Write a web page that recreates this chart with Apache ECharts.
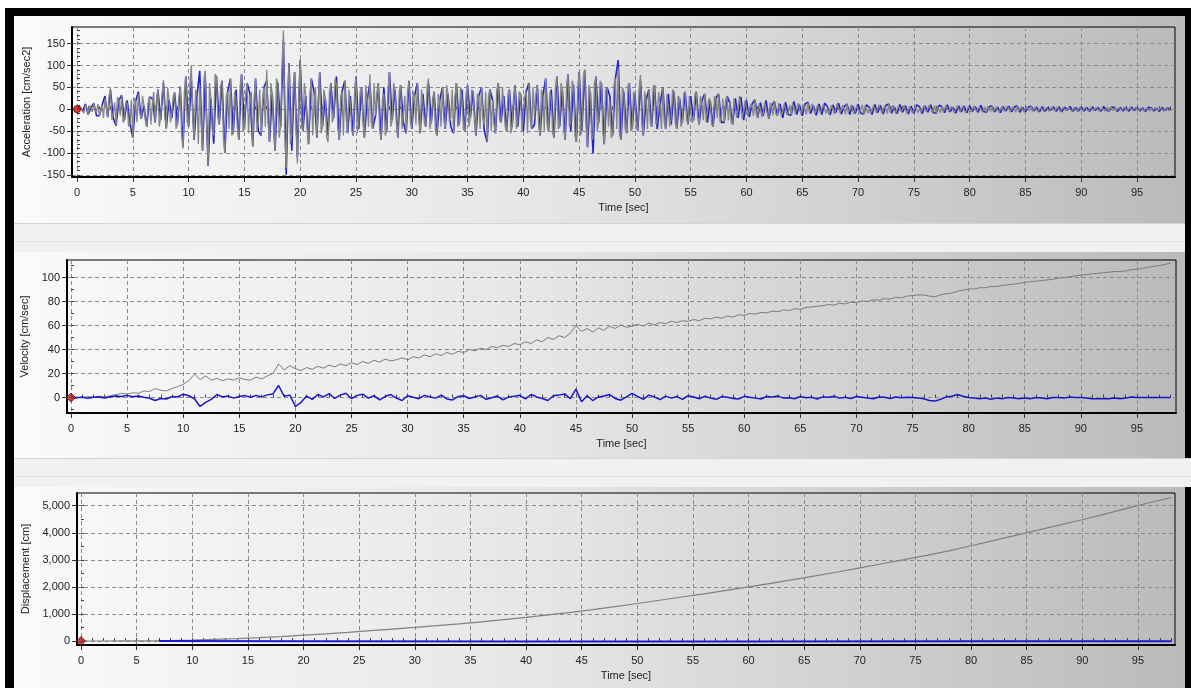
<!DOCTYPE html>
<html><head><meta charset="utf-8">
<script src="https://cdn.jsdelivr.net/npm/echarts@6/dist/echarts.min.js"></script>
<style>html,body{margin:0;padding:0;background:#fff;}#c{width:1191px;height:688px;}</style>
</head><body><div id="c"></div>
<script>
// ---------------- DATA ----------------
const accelGrayStep = 0.125;
const accelGray = [
0,-3,6,2,-4,-9,10,4,-12,8,3,-6,14,-2,-8,12,-15,-4,9,-20,24,5,-18,30,48,-25,-10,15,-38,28,20,-15,32,-30,-25,18,12,-40,-33,22,
-65,25,18,-30,35,-10,-22,30,8,-25,-40,15,28,-35,12,40,-30,20,45,-40,-18,35,66,-20,-44,50,22,-30,-10,30,38,-45,-35,25,52,-60,-90,40,75,-30,
-40,60,100,-20,-70,45,30,-80,55,-30,-95,70,88,-40,-130,60,25,-50,-60,80,75,-20,-35,55,65,-70,-100,30,40,-45,70,-60,-55,40,20,-45,-70,55,80,-50,
-45,35,60,-55,15,40,-85,25,70,-50,-30,45,-60,20,50,-40,90,-30,-75,60,35,-50,-95,70,60,-65,-40,100,180,-60,-135,40,105,-80,-60,55,85,-40,-124,30,
115,-40,-50,60,30,-45,-80,35,70,-60,15,50,-65,20,85,-55,-40,45,25,-65,-75,40,60,-30,-20,70,55,-45,-70,30,40,-60,65,-20,-55,45,10,-50,-60,35,
75,-55,-30,40,50,-25,-65,55,20,-40,80,-30,-45,60,-15,35,60,-50,-70,25,35,-60,-50,45,85,-40,-25,60,45,-35,-65,40,55,-45,-10,30,-55,40,65,-30,
-45,40,30,-35,60,-20,-55,45,15,-30,-40,50,70,-45,-30,25,40,-50,-60,35,20,-40,50,-25,-45,55,35,-30,-20,45,-55,30,60,-40,-35,50,25,-45,-50,35,
55,-40,-20,45,40,-30,-60,35,30,-45,50,-20,-35,40,-75,30,45,-50,20,-35,-55,45,60,-25,-30,50,10,-40,-50,35,45,-55,-40,30,55,-45,-25,40,35,-50,
-50,30,40,-55,60,-25,-45,50,-20,35,55,-40,-60,45,30,-50,70,-35,-50,40,25,-55,-65,50,75,-45,-40,60,45,-50,-70,55,80,-40,-30,65,55,-60,-75,50,
85,-60,-50,70,90,-40,-87,55,40,-70,-65,60,75,-50,-30,65,60,-55,-80,45,50,-40,20,-65,-60,55,70,-45,95,-60,-70,50,40,-45,-55,55,60,-50,-45,40,
35,-40,-50,45,78,-35,-60,40,20,-45,45,-30,-40,50,55,-35,-30,40,10,-45,50,-30,-45,35,35,-40,-20,45,40,-35,-45,30,25,-40,-30,35,40,-25,-35,30,
30,-30,-25,35,40,-20,-35,30,10,-25,35,-30,-30,25,20,-35,-40,30,25,-20,35,-30,-20,25,-30,20,30,-25,15,-30,-35,25,25,-20,-20,30,28,-22,-25,20,
20,-15,-18,12,5,-16,22,-10,-20,14,15,-18,-10,16,20,-12,-22,15,8,-14,18,-10,-15,14,12,-16,-20,12,16,-13,-8,10,-14,15,18,-10,-12,14,10,-12,
-15,10,12,-12,16,-8,-10,12,5,-11,-14,10,12,-9,-12,11,14,-10,3,-12,-13,9,10,-11,-8,12,14,-9,-11,10,6,-12,12,-8,-12,10,8,-11,-10,9,
12,-9,-6,10,-11,8,10,-9,4,-10,-12,8,11,-7,-8,10,9,-9,-11,8,6,-10,12,-7,-9,9,5,-10,-10,8,11,-7,-7,9,8,-10,-11,7,7,-9,
-9,7,10,-8,3,-7,-10,8,8,-6,-7,9,10,-7,-5,8,-9,6,9,-8,6,-7,-8,9,10,-6,-6,7,4,-8,-9,7,8,-6,-4,7,7,-8,-8,6,
8,-6,-5,7,6,-5,-7,6,9,-6,-3,5,-7,7,6,-5,7,-6,-6,5,3,-7,-8,6,6,-5,-4,7,7,-5,-6,6,5,-7,8,-5,-7,6,4,-6,
-6,5,5,-4,7,-5,-4,5,2,-6,-6,4,6,-5,-5,4,4,-5,-3,5,6,-4,-5,5,3,-6,-6,4,5,-4,-2,5,6,-5,-5,4,4,-5,-4,5,
5,-4,-4,4,2,-5,-5,4,5,-3,-3,4,4,-5,-5,3,6,-4,-2,4,-4,5,5,-3,3,-4,-5,4,4,-3,-4,5,2,-4,-5,4,5,-3,-3,4,
4,-3,-4,3,1,-4,-5,3,4,-4,3,-3,-4,4,2,-3,-5,3,4,-4,-3,3,3,-3,-2
];
const accelBlueStep = 0.25;
const accelBlue = [
0,6,-4,12,-12,3,14,-15,-15,9,30,-18,44,-20,-38,20,32,-25,20,-33,
-65,18,40,-22,8,-40,28,25,-30,45,-25,60,-44,22,-20,38,-35,52,-85,75,
-40,65,-70,30,88,-95,70,-130,25,-79,75,-35,65,-100,40,70,-55,45,-70,80,
-45,60,35,-85,70,-50,-60,50,65,-75,35,-95,60,-40,155,-150,105,-95,85,-110,
112,-50,30,-80,70,40,-65,85,-40,25,-60,60,-20,75,-70,40,65,-55,30,-60,
75,-45,50,-65,20,60,-45,-15,60,-70,50,-50,85,-25,45,-65,55,-30,-55,65,
-45,30,60,-55,35,-40,60,-30,40,-60,20,50,-45,35,-40,-55,60,-35,45,-50,
55,-20,40,-60,30,50,-50,-75,45,20,-55,60,-30,30,-50,45,-40,55,-40,35,
-50,40,60,-45,-35,55,-60,30,70,-50,45,-65,75,-40,45,-70,80,-50,55,-75,
85,-50,90,-87,40,-101,75,-30,60,-80,50,30,-60,70,112,-70,40,-55,60,-45,
35,-50,65,-60,20,45,-40,55,-45,10,50,-45,35,-35,40,-45,25,-30,40,-35,
30,-25,40,-35,20,35,-30,20,-40,25,35,-30,-30,30,15,-35,25,-20,28,-25,
20,-18,12,22,-20,15,-15,20,-22,8,18,-15,12,-20,16,-12,-14,18,-12,10,
-15,12,16,-10,8,-14,12,-12,14,6,-13,10,-8,14,-11,6,12,-12,8,-10,
12,-9,-11,10,4,-12,11,-8,9,-11,9,12,-9,5,-10,11,-7,8,-11,7,
-9,10,6,-10,8,-7,10,-8,-9,9,6,-8,10,-6,4,-9,8,-6,7,-8,
8,-5,6,-7,9,-5,-7,6,7,-6,5,-8,6,-4,7,-6,5,8,-7,4,
-6,5,7,-4,4,-6,6,-5,4,-3,6,-5,5,-6,5,-2,6,-5,4,-4,
5,-4,4,-5,5,-3,4,-5,6,-2,-4,5,3,-5,4,-4,4,-5,5,-3,
4,-4,3,-5,4,3,-4,2,-5,4,-3,3,-2
];
const velStep = 0.5;
const velGray = [
0,0.5,-0.5,0.8,0.2,1.2,0.5,1.5,2.5,3.5,
2.8,4.0,3.5,5.5,5.0,7.5,6.0,5.5,7.5,9.0,
11.0,14.0,19.5,15.0,18.0,14.5,16.0,14.0,15.5,14.5,
16.5,15.0,14.5,17.0,15.5,18.0,20.0,28.0,23.0,26.5,
24.0,22.5,25.0,23.5,26.0,24.5,27.0,25.5,28.0,26.5,
29.0,27.5,30.0,28.5,31.0,29.5,32.0,30.5,31.5,33.0,
31.5,34.0,33.0,35.5,34.0,36.5,35.0,37.5,36.0,38.5,
37.5,40.0,39.0,41.0,40.0,42.5,41.5,43.5,42.5,45.0,
44.0,46.5,45.0,48.0,46.5,50.0,48.5,51.5,50.0,53.5,
60.0,55.0,57.5,54.5,58.0,56.0,59.5,57.5,60.5,58.5,
59.5,61.0,59.5,62.0,60.5,62.5,61.5,63.5,62.5,64.0,
63.5,65.0,64.0,66.0,65.5,67.0,66.0,68.0,67.0,69.0,
68.5,70.0,69.5,71.0,70.5,72.0,71.5,73.0,72.5,74.0,
73.5,75.0,75.5,76.0,76.5,77.5,77.0,78.5,78.0,79.5,
79.0,80.5,80.0,81.5,81.0,82.5,82.0,83.5,83.0,84.5,
85.0,85.5,85.5,84.5,84.0,85.5,86.5,87.0,88.5,89.5,
90.5,90.5,91.5,91.5,92.5,92.5,93.5,94.0,94.5,95.0,
96.0,96.5,97.0,97.5,98.0,98.5,99.5,100.0,100.5,101.5,
102.0,102.5,103.0,103.5,104.0,104.5,105.0,105.0,105.5,106.5,
107.0,107.5,108.5,109.5,110.0,111.0,112.0
];
const velBlue = [
0,-0.3,0.4,-0.6,0.2,0.5,-0.4,0.6,1.2,0.8,
1.8,0.6,1.2,0.2,-0.6,-2.5,-0.8,-1.2,0.8,0.4,
2.8,1.5,-1.0,-7.5,-4.0,-1.5,2.5,0.5,1.2,-0.5,
0.8,1.6,0.2,1.8,0.5,2.2,3.0,10.0,1.0,2.0,
-7.5,-4.0,1.2,-1.5,2.5,0.5,3.2,-0.8,2.0,3.5,
-1.0,1.8,2.8,-0.5,1.5,-2.0,0.8,2.5,-0.5,-2.5,
1.5,0.2,-1.0,1.8,0.5,-0.5,2.0,-1.2,-2.0,0.8,
1.5,-0.8,0.5,1.8,-1.5,-0.2,1.2,-2.0,0.5,1.0,
1.8,-1.2,2.5,0.5,-0.8,-2.5,1.5,2.0,3.0,-1.0,
7.0,-3.5,1.5,-2.5,0.5,1.2,2.5,-0.8,-2.2,0.5,
3.5,1.0,-1.5,2.0,0.5,-1.8,1.2,-0.5,0.8,-1.5,
1.5,0.5,-1.0,1.2,-0.5,-1.5,0.8,0.2,-0.8,-1.2,
1.0,0.2,-0.5,-1.2,0.8,0.5,1.2,-0.5,-0.2,-1.0,
0.8,-0.2,0.2,-1.2,0.5,0.2,1.0,-0.5,0.2,-0.8,
0.8,0.2,-0.5,-1.0,0.5,0.2,-0.8,0.5,-0.2,0.3,
0.0,-0.5,-1.0,-2.5,-3.0,-1.5,0.5,1.0,2.5,1.0,
0.0,-0.5,-1.0,-0.5,-1.5,-0.5,-1.0,0.0,-0.5,-1.0,
-0.5,-1.0,0.0,-0.5,-1.0,0.0,0.0,-0.5,0.5,0.0,
0.0,-0.5,-1.0,-1.0,-1.0,-1.0,-0.5,-1.0,-0.5,0.5,
0,0,0,0,0,0,0
];
const dispStep = 2;
const dispGray = [
0,0,2,6,18,35,60,90,125,165,
215,265,320,380,440,500,565,635,710,790,
875,965,1060,1160,1270,1385,1505,1625,1745,1870,
2000,2130,2265,2405,2550,2700,2855,3005,3165,3330,
3520,3710,3905,4095,4290,4480,4690,4900,5110,5300
];
const dispBlueTime = [7, 20, 40, 60, 80, 98];
const dispBlue = [0, -10, -15, -15, -12, -10];
const startPoint = [0, 0];

const timeTicks = [0,5,10,15,20,25,30,35,40,45,50,55,60,65,70,75,80,85,90,95];
const accelTicks = [-150,-100,-50,0,50,100,150];
const velTicks = [0,20,40,60,80,100];
const dispTicks = [0,1000,2000,3000,4000,5000];
const timeMinor = Array.from({length: 99}, (_, i) => i);
const accelMinor = [-150,-140,-130,-120,-110,-100,-90,-80,-70,-60,-50,-40,-30,-20,-10,0,10,20,30,40,50,60,70,80,90,100,110,120,130,140,150,160,170,180];
const velMinor = [-10,0,10,20,30,40,50,60,70,80,90,100,110];
const dispMinor = [0,500,1000,1500,2000,2500,3000,3500,4000,4500,5000];

const titles = ['Acceleration [cm/sec2]', 'Velocity [cm/sec]', 'Displacement [cm]'];
const xName = 'Time [sec]';

// ---------------- BUILD ----------------
const toPairs = (vals, start, step) => vals.map((v, i) => [start + i * step, v]);
const FONT = 'Liberation Sans';

const panels = [
  {grid:{left:72, top:27, width:1103, height:150}, xmin:-0.448, xmax:98.40, ymin:-155, ymax:188,
   yTicks:accelTicks, yMinor:accelMinor, name:titles[0], nameGap:34, fmt:v=>String(v)},
  {grid:{left:67, top:260, width:1109, height:153}, xmin:-0.356, xmax:98.48, ymin:-12.9, ymax:114.6,
   yTicks:velTicks, yMinor:velMinor, name:titles[1], nameGap:31, fmt:v=>String(v)},
  {grid:{left:77, top:493, width:1098, height:152}, xmin:-0.36, xmax:98.33, ymin:-148, ymax:5470,
   yTicks:dispTicks, yMinor:dispMinor, name:titles[2], nameGap:41, fmt:v=>Number(v).toLocaleString('en-US')}
];

const grid = [], xAxis = [], yAxis = [];
panels.forEach((p, i) => {
  grid.push(Object.assign({show:true, borderColor:'#000', borderWidth:1, backgroundColor:'transparent'}, p.grid));
  xAxis.push({
    type:'value', gridIndex:i, min:p.xmin, max:p.xmax, position:'bottom',
    name:xName, nameLocation:'middle', nameGap:25,
    nameTextStyle:{fontFamily:FONT, fontSize:11, color:'#222'},
    axisLine:{show:true, onZero:false, lineStyle:{color:'#000', width:2}},
    axisTick:{show:true, length:5, lineStyle:{color:'#333'}, customValues:timeTicks},
    axisLabel:{show:true, margin:10, fontFamily:FONT, fontSize:11, color:'#222', customValues:timeTicks},
    splitLine:{show:true, lineStyle:{color:'#8a8a8a', type:[4,3], width:1}}
  });
  xAxis.push({
    type:'value', gridIndex:i, min:p.xmin, max:p.xmax, position:'bottom',
    axisLine:{show:false}, axisLabel:{show:false}, splitLine:{show:false},
    axisTick:{show:true, inside:true, length:3, lineStyle:{color:'#444'}, customValues:timeMinor}
  });
  yAxis.push({
    type:'value', gridIndex:i, min:p.ymin, max:p.ymax, position:'left',
    name:p.name, nameLocation:'middle', nameGap:p.nameGap,
    nameTextStyle:{fontFamily:FONT, fontSize:11, color:'#222'},
    axisLine:{show:true, onZero:false, lineStyle:{color:'#000', width:2}},
    axisTick:{show:true, length:5, lineStyle:{color:'#333'}, customValues:p.yTicks},
    axisLabel:{show:true, margin:7, fontFamily:FONT, fontSize:11, color:'#222', customValues:p.yTicks, formatter:p.fmt},
    splitLine:{show:true, lineStyle:{color:'#8a8a8a', type:[4,3], width:1}}
  });
  yAxis.push({
    type:'value', gridIndex:i, min:p.ymin, max:p.ymax, position:'left',
    axisLine:{show:false}, axisLabel:{show:false}, splitLine:{show:false},
    axisTick:{show:true, inside:true, length:3, lineStyle:{color:'#444'}, customValues:p.yMinor}
  });
});

const lineBase = {type:'line', showSymbol:false, symbol:'none', animation:false, silent:true};
const series = [
  Object.assign({}, lineBase, {xAxisIndex:0, yAxisIndex:0, z:2,
    data:toPairs(accelBlue, 0, accelBlueStep), lineStyle:{color:'#2222cc', width:1.6}}),
  Object.assign({}, lineBase, {xAxisIndex:0, yAxisIndex:0, z:3,
    data:toPairs(accelGray, 0, accelGrayStep), lineStyle:{color:'#858585', width:1.3}}),
  Object.assign({}, lineBase, {xAxisIndex:2, yAxisIndex:2, z:2,
    data:toPairs(velGray, 0, velStep), lineStyle:{color:'#7c7c7c', width:1}}),
  Object.assign({}, lineBase, {xAxisIndex:2, yAxisIndex:2, z:3,
    data:toPairs(velBlue, 0, velStep), lineStyle:{color:'#1616c8', width:1.5}}),
  Object.assign({}, lineBase, {xAxisIndex:4, yAxisIndex:4, z:2,
    data:toPairs(dispGray, 0, dispStep), lineStyle:{color:'#808080', width:1.2}}),
  Object.assign({}, lineBase, {xAxisIndex:4, yAxisIndex:4, z:3,
    data:dispBlue.map((v, i) => [dispBlueTime[i], v]), lineStyle:{color:'#1a1ad0', width:2}}),
  {type:'scatter', xAxisIndex:0, yAxisIndex:0, z:5, symbol:'circle', symbolSize:7, data:[startPoint],
   itemStyle:{color:'#c81010', borderColor:'#700000', borderWidth:1}, silent:true},
  {type:'scatter', xAxisIndex:2, yAxisIndex:2, z:5, symbol:'diamond', symbolSize:9, data:[startPoint],
   itemStyle:{color:'#b02020', borderColor:'#700000', borderWidth:1}, silent:true},
  {type:'scatter', xAxisIndex:4, yAxisIndex:4, z:5, symbol:'diamond', symbolSize:9, data:[startPoint],
   itemStyle:{color:'#b02020', borderColor:'#700000', borderWidth:1}, silent:true}
];

const panelFill = {type:'linear', x:0, y:0, x2:1, y2:0, colorStops:[
  {offset:0, color:'#fafafa'}, {offset:0.45, color:'#e6e6e6'}, {offset:1, color:'#bababa'}]};
const sepFill = '#f1f1f1';
const graphic = [
  {type:'rect', z:-20, shape:{x:5, y:8, width:1186, height:680}, style:{fill:'#000'}},
  {type:'rect', z:-19, shape:{x:14, y:16, width:1171, height:207}, style:{fill:panelFill}},
  {type:'rect', z:-19, shape:{x:14, y:223, width:1171, height:29}, style:{fill:sepFill}},
  {type:'rect', z:-18, shape:{x:14, y:223, width:1171, height:1}, style:{fill:'#d4d4d4'}},
  {type:'rect', z:-18, shape:{x:14, y:241, width:1171, height:1}, style:{fill:'#e2e2e2'}},
  {type:'rect', z:-19, shape:{x:14, y:252, width:1171, height:206}, style:{fill:panelFill}},
  {type:'rect', z:-19, shape:{x:14, y:458, width:1177, height:29}, style:{fill:sepFill}},
  {type:'rect', z:-18, shape:{x:14, y:458, width:1177, height:1}, style:{fill:'#d4d4d4'}},
  {type:'rect', z:-18, shape:{x:14, y:476, width:1177, height:1}, style:{fill:'#e2e2e2'}},
  {type:'rect', z:-19, shape:{x:14, y:487, width:1171, height:201}, style:{fill:panelFill}}
];

const chart = echarts.init(document.getElementById('c'), null, {renderer:'canvas'});
chart.setOption({
  animation:false,
  backgroundColor:'#ffffff',
  graphic: graphic,
  grid: grid,
  xAxis: xAxis,
  yAxis: yAxis,
  series: series
});
</script>
</body></html>
